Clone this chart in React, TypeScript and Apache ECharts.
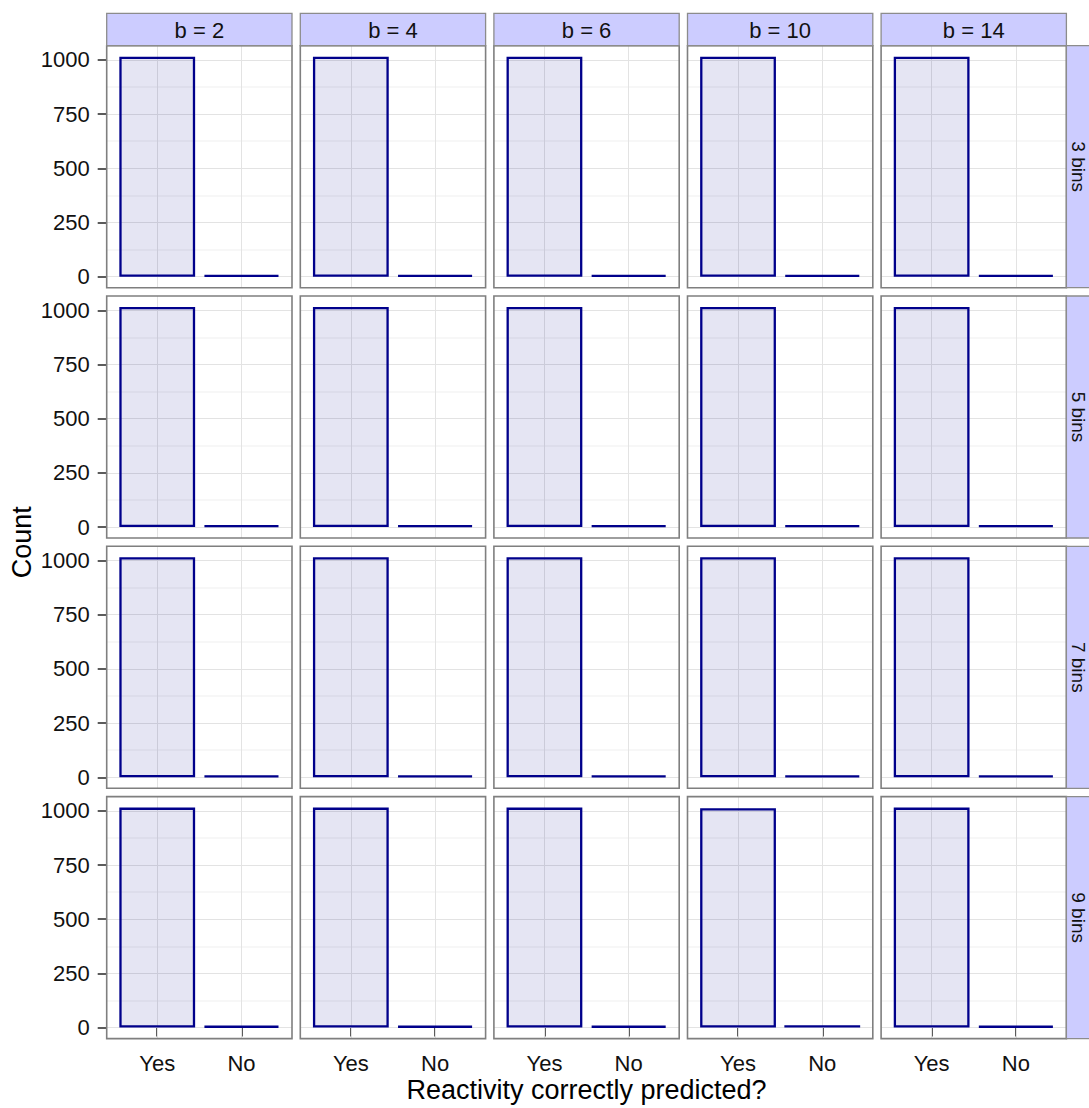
import React, { useEffect, useRef } from "react";
import * as echarts from "echarts";

// ---- data ----
const bLevels = ["b = 2", "b = 4", "b = 6", "b = 10", "b = 14"];
const binLevels = ["3 bins", "5 bins", "7 bins", "9 bins"];
const answerCats = ["Yes", "No"];
const yesCounts = [
  [1015, 1015, 1015, 1015, 1015],
  [1015, 1015, 1015, 1015, 1015],
  [1015, 1015, 1015, 1015, 1015],
  [1015, 1015, 1015, 1012, 1015],
];
const noCounts = [
  [8, 8, 8, 8, 8],
  [8, 8, 8, 8, 8],
  [8, 8, 8, 8, 8],
  [8, 8, 8, 11, 8],
];
const yTicks = [0, 250, 500, 750, 1000];
const yMinorTicks = [125, 375, 625, 875];
const xTitle = "Reactivity correctly predicted?";
const yTitle = "Count";

// ---- layout ----
const W = 1089;
const H = 1108;
const PL = 106.7; // first panel left
const PW = 185.3; // panel width
const PXP = 193.6; // panel pitch x
const PT = 45.7; // first panel top
const PH = 242; // panel height
const PYP = 250.3; // panel pitch y
const STRIP = 32.4;
const FONT = "'Liberation Sans', Arial, Helvetica, sans-serif";

export default function App() {
  const ref = useRef<HTMLDivElement>(null);
  useEffect(() => {
    if (!ref.current) return;
    const chart = echarts.init(ref.current, null, { renderer: "svg", width: W, height: H });

    const allVals: number[] = [];
    yesCounts.forEach((r) => r.forEach((v) => allVals.push(v)));
    noCounts.forEach((r) => r.forEach((v) => allVals.push(v)));
    const vMax = Math.max(...allVals);
    const yMin = -0.05 * vMax;
    const yMax = vMax * 1.05;
    const xMin = 1 - 0.6;
    const xMax = answerCats.length + 0.6;
    const unitPx = PW / (xMax - xMin);

    const grids: any[] = [];
    const xAxes: any[] = [];
    const yAxes: any[] = [];
    const series: any[] = [];
    const graphics: any[] = [];

    binLevels.forEach((binLabel, r) => {
      bLevels.forEach((bLabel, c) => {
        const idx = grids.length;
        const left = PL + c * PXP;
        const top = PT + r * PYP;
        grids.push({ left, top, width: PW, height: PH, show: false, outerBoundsMode: "none", containLabel: false });
        const bottomRow = r === binLevels.length - 1;
        const leftCol = c === 0;
        xAxes.push({
          type: "value",
          gridIndex: idx,
          min: xMin,
          max: xMax,
          axisLine: { show: false },
          splitLine: { show: false },
          axisTick: {
            show: bottomRow,
            customValues: answerCats.map((_, i) => i + 1),
            length: 9,
            lineStyle: { color: "#333", width: 1.6 },
          },
          axisLabel: {
            show: bottomRow,
            customValues: answerCats.map((_, i) => i + 1),
            formatter: (v: number) => answerCats[Math.round(v) - 1] ?? "",
            margin: 14,
            fontSize: 22,
            fontFamily: FONT,
            color: "#111",
          },
        });
        yAxes.push({
          type: "value",
          gridIndex: idx,
          min: yMin,
          max: yMax,
          axisLine: { show: false },
          splitLine: { show: false },
          axisTick: {
            show: leftCol,
            customValues: yTicks,
            length: 9,
            lineStyle: { color: "#333", width: 1.6 },
          },
          axisLabel: {
            show: leftCol,
            customValues: yTicks,
            formatter: (v: number) => String(Math.round(v)),
            margin: 17,
            fontSize: 22,
            fontFamily: FONT,
            color: "#111",
          },
        });
        // grid lines (beneath bars)
        series.push({
          type: "line",
          xAxisIndex: idx,
          yAxisIndex: idx,
          data: [],
          z: 1,
          silent: true,
          markLine: {
            silent: true,
            z: 1,
            symbol: "none",
            animation: false,
            label: { show: false },
            data: [
              ...yMinorTicks.map((v) => ({ yAxis: v, lineStyle: { color: "#F4F4F4", width: 1.6, type: "solid" } })),
              ...yTicks.map((v) => ({ yAxis: v, lineStyle: { color: "#E3E3E3", width: 1, type: "solid" } })),
              ...answerCats.map((_, i) => ({ xAxis: i + 1, lineStyle: { color: "#E3E3E3", width: 1, type: "solid" } })),
            ],
          },
        });
        series.push({
          type: "bar",
          xAxisIndex: idx,
          yAxisIndex: idx,
          z: 3,
          barWidth: 0.9 * unitPx,
          data: [
            [1, yesCounts[r][c]],
            [2, noCounts[r][c]],
          ],
          itemStyle: {
            color: "rgba(0,0,139,0.1)",
            borderColor: "#00008B",
            borderWidth: 2.3,
          },
          silent: true,
        });
        // panel border
        graphics.push({
          type: "rect",
          z: 100,
          shape: { x: left, y: top, width: PW, height: PH },
          style: { fill: "none", stroke: "#7F7F7F", lineWidth: 1.6 },
        });
      });
    });

    // top strips
    bLevels.forEach((bLabel, c) => {
      const left = PL + c * PXP;
      graphics.push({
        type: "rect",
        z: 100,
        shape: { x: left, y: PT - STRIP, width: PW, height: STRIP },
        style: { fill: "#CCCCFF", stroke: "#8C8C8C", lineWidth: 1.3 },
      });
      graphics.push({
        type: "text",
        z: 101,
        x: left + PW / 2,
        y: PT - STRIP / 2 + 1.2,
        style: { text: bLabel, fontSize: 22, fontFamily: FONT, fill: "#111", align: "center", verticalAlign: "middle" },
      });
    });
    // right strips
    binLevels.forEach((binLabel, r) => {
      const top = PT + r * PYP;
      const x0 = PL + (bLevels.length - 1) * PXP + PW;
      graphics.push({
        type: "rect",
        z: 100,
        shape: { x: x0, y: top, width: STRIP, height: PH },
        style: { fill: "#CCCCFF", stroke: "#8C8C8C", lineWidth: 1.3 },
      });
      graphics.push({
        type: "text",
        z: 101,
        x: x0 + 12.3,
        y: top + PH / 2,
        rotation: -Math.PI / 2,
        style: { text: binLabel, fontSize: 19, fontFamily: FONT, fill: "#111", align: "center", verticalAlign: "middle" },
      });
    });
    // axis titles
    const panelsRight = PL + (bLevels.length - 1) * PXP + PW;
    const panelsBottom = PT + (binLevels.length - 1) * PYP + PH;
    graphics.push({
      type: "text",
      z: 101,
      x: (PL + panelsRight) / 2,
      y: 1090,
      style: { text: xTitle, fontSize: 27, fontFamily: FONT, fill: "#000", align: "center", verticalAlign: "middle" },
    });
    graphics.push({
      type: "text",
      z: 101,
      x: 22,
      y: (PT + panelsBottom) / 2,
      rotation: Math.PI / 2,
      style: { text: yTitle, fontSize: 27, fontFamily: FONT, fill: "#000", align: "center", verticalAlign: "middle" },
    });

    chart.setOption({
      animation: false,
      backgroundColor: "#ffffff",
      grid: grids,
      xAxis: xAxes,
      yAxis: yAxes,
      series,
      graphic: { elements: graphics },
    });
    return () => chart.dispose();
  }, []);

  return <div ref={ref} style={{ position: "absolute", left: 0, top: 0, width: W, height: H }} />;
}
